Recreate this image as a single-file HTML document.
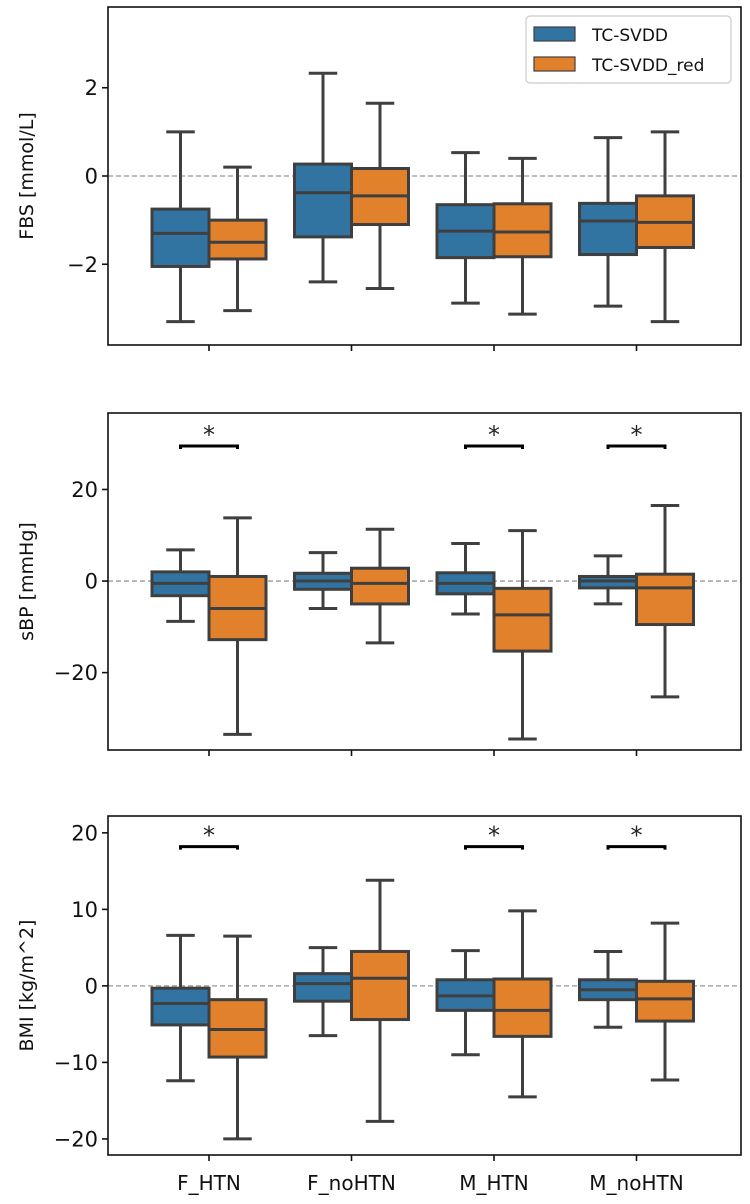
<!DOCTYPE html>
<html><head><meta charset="utf-8"><style>
html,body{margin:0;padding:0;background:#fff;}
svg{display:block;font-family:"DejaVu Sans","Liberation Sans",sans-serif;}
</style></head><body>
<svg id="chart" width="750" height="1204" viewBox="0 0 750 1204" xmlns="http://www.w3.org/2000/svg"></svg>
<script>
const categories = ["F_HTN","F_noHTN","M_HTN","M_noHTN"];
const seriesNames = ["TC-SVDD","TC-SVDD_red"];
// [low whisker, Q1, median, Q3, high whisker] per category
const fbsBlue = [[-3.3,-2.05,-1.3,-0.75,1.0],[-2.4,-1.38,-0.38,0.27,2.33],[-2.88,-1.85,-1.25,-0.65,0.53],[-2.95,-1.78,-1.02,-0.62,0.87]];
const fbsOrange = [[-3.05,-1.88,-1.5,-1.0,0.2],[-2.55,-1.1,-0.45,0.17,1.65],[-3.13,-1.83,-1.27,-0.63,0.4],[-3.3,-1.62,-1.05,-0.45,1.0]];
const sbpBlue = [[-8.8,-3.2,-0.5,2,6.8],[-6,-1.8,0,1.7,6.2],[-7.2,-2.8,-0.5,1.8,8.2],[-5,-1.5,0,1,5.5]];
const sbpOrange = [[-33.5,-12.8,-6,1,13.8],[-13.5,-5,-0.5,2.8,11.3],[-34.5,-15.3,-7.4,-1.6,11],[-25.3,-9.5,-1.5,1.5,16.5]];
const bmiBlue = [[-12.4,-5.1,-2.3,-0.3,6.6],[-6.5,-2,0.3,1.6,5],[-9,-3.2,-1.3,0.8,4.6],[-5.4,-1.8,-0.5,0.8,4.5]];
const bmiOrange = [[-20,-9.3,-5.7,-1.8,6.5],[-17.7,-4.4,1,4.5,13.8],[-14.5,-6.6,-3.2,0.9,9.8],[-12.3,-4.6,-1.7,0.6,8.2]];
const fbsTicks = [-2,0,2];
const sbpTicks = [-20,0,20];
const bmiTicks = [-20,-10,0,10,20];
const sbpSig = [0,2,3];
const bmiSig = [0,2,3];

const NS="http://www.w3.org/2000/svg";
const svg=document.getElementById('chart');
function mk(tag,attrs,parent){const e=document.createElementNS(NS,tag);for(const k in attrs)e.setAttribute(k,attrs[k]);(parent||svg).appendChild(e);return e;}
const colors=["#3274a1","#e1812c"];
const edge="#3f3f3f";
const L=108,R=741;
const xC=i=>209+142.5*i;
const step=142.5;
const LW=3;

function panel(opt){
  const g=mk('g',{});
  
  
  const y=v=>opt.top+(opt.ymax-v)/(opt.ymax-opt.ymin)*(opt.bottom-opt.top);
  const z=mk('line',{x1:L,x2:R,y1:y(0),y2:y(0),stroke:'#999',"stroke-width":1.3,"stroke-dasharray":"5,3"},g);
  
  
  [opt.blue,opt.orange].forEach((ser,s)=>{
    ser.forEach((d,i)=>{
      const bw=step*0.4;
      const x0=xC(i)-bw+s*bw, cx=x0+bw/2;
      const bg=mk('g',{},g);
      
      
      mk('line',{x1:cx,x2:cx,y1:y(d[4]),y2:y(d[3]),stroke:edge,"stroke-width":LW},bg);
      mk('line',{x1:cx,x2:cx,y1:y(d[1]),y2:y(d[0]),stroke:edge,"stroke-width":LW},bg);
      mk('line',{x1:cx-bw/4,x2:cx+bw/4,y1:y(d[4]),y2:y(d[4]),stroke:edge,"stroke-width":LW},bg);
      mk('line',{x1:cx-bw/4,x2:cx+bw/4,y1:y(d[0]),y2:y(d[0]),stroke:edge,"stroke-width":LW},bg);
      mk('rect',{x:x0,y:y(d[3]),width:bw,height:y(d[1])-y(d[3]),fill:colors[s],stroke:edge,"stroke-width":LW},bg);
      mk('line',{x1:x0,x2:x0+bw,y1:y(d[2]),y2:y(d[2]),stroke:edge,"stroke-width":LW},bg);
    });
  });
  (opt.sig||[]).forEach(i=>{
    const a=xC(i)-step*0.2,b=xC(i)+step*0.2,yy=y(opt.sigY);
    const sg=mk('g',{},g);
    
    
    mk('path',{d:`M${a},${yy+3}V${yy}H${b}V${yy+3}`,fill:'none',stroke:'#000',"stroke-width":3},sg);
    const t=mk('text',{x:(a+b)/2,y:yy-3,"font-size":24,"text-anchor":"middle",fill:'#222'},sg);t.textContent='*';
  });
  const fr=mk('rect',{x:L,y:opt.top,width:R-L,height:opt.bottom-opt.top,fill:'none',stroke:'#111',"stroke-width":1.6},g);
  
  
  opt.ticks.forEach(v=>{
    mk('line',{x1:L-6,x2:L,y1:y(v),y2:y(v),stroke:'#111',"stroke-width":1.6},g);
    const t=mk('text',{x:L-10,y:y(v)+7.5,"font-size":21,"text-anchor":"end",fill:'#111'},g);
    
    
    t.textContent=(v<0?'\u2212'+(-v):''+v);
  });
  categories.forEach((c,i)=>mk('line',{x1:xC(i),x2:xC(i),y1:opt.bottom,y2:opt.bottom+6,stroke:'#111',"stroke-width":1.6},g));
  const cy=(opt.top+opt.bottom)/2;
  const yl=mk('text',{x:0,y:0,transform:`translate(33,${cy}) rotate(-90)`,"font-size":19,"text-anchor":"middle",fill:'#111'},g);
  
  
  yl.textContent=opt.label;
}
panel({name:'fbs',top:7,bottom:345,ymin:-3.83,ymax:3.83,blue:fbsBlue,orange:fbsOrange,ticks:fbsTicks,label:'FBS [mmol/L]'});
panel({name:'sbp',top:413,bottom:750,ymin:-36.9,ymax:36.7,blue:sbpBlue,orange:sbpOrange,ticks:sbpTicks,label:'sBP [mmHg]',sig:sbpSig,sigY:29.5});
panel({name:'bmi',top:816,bottom:1155,ymin:-22.1,ymax:22.2,blue:bmiBlue,orange:bmiOrange,ticks:bmiTicks,label:'BMI [kg/m^2]',sig:bmiSig,sigY:18.2});
categories.forEach((c,i)=>{
  const t=mk('text',{x:xC(i),y:1190,"font-size":20,"text-anchor":"middle",fill:'#111'});
  
  
  t.textContent=c;
});
const lg=mk('g',{});


mk('rect',{x:526,y:16,width:205,height:67,rx:4,fill:'#fff',stroke:'#ccc',"stroke-width":1.2},lg);
seriesNames.forEach((n,s)=>{
  const e=mk('g',{},lg);
  
  
  mk('rect',{x:534,y:27+s*30,width:41,height:14,fill:colors[s],stroke:edge,"stroke-width":1.2},e);
  const t=mk('text',{x:592,y:41+s*30,"font-size":17,fill:'#111'},e);t.textContent=n;
});
</script>
</body></html>
